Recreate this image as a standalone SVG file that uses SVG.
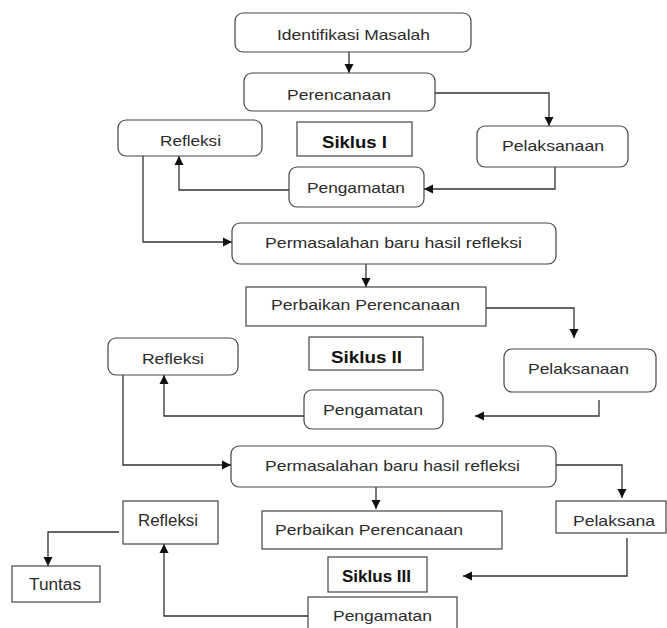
<svg xmlns="http://www.w3.org/2000/svg" width="667" height="628" viewBox="0 0 667 628">
<style>
.bx{fill:#fff;stroke:#444;stroke-width:1.2}
.t{font-family:"Liberation Sans",Arial,sans-serif;font-size:15px;fill:#2b2b2b}
.b{font-family:"Liberation Sans",Arial,sans-serif;font-size:16px;font-weight:bold;fill:#111}
.c{fill:none;stroke:#333;stroke-width:1.3}
</style>
<defs>
<marker id="ah" markerUnits="userSpaceOnUse" markerWidth="10" markerHeight="10" refX="9" refY="5" orient="auto">
<path d="M0,0.5 L9,5 L0,9.5 Z" fill="#111"/>
</marker>
</defs>
<rect width="667" height="628" fill="#fff"/>
<g id="connectors">
<path class="c" d="M349,52 V73" marker-end="url(#ah)"/>
<path class="c" d="M435,93 H549 V126" marker-end="url(#ah)"/>
<path class="c" d="M555,167 V189 H424" marker-end="url(#ah)"/>
<path class="c" d="M289,190 H179 V156" marker-end="url(#ah)"/>
<path class="c" d="M143,156 V242 H232" marker-end="url(#ah)"/>
<path class="c" d="M366,264 V287" marker-end="url(#ah)"/>
<path class="c" d="M486,308 H574 V338" marker-end="url(#ah)"/>
<path class="c" d="M599,400 V416 H475" marker-end="url(#ah)"/>
<path class="c" d="M304,416 H164 V375" marker-end="url(#ah)"/>
<path class="c" d="M123,375 V465 H231" marker-end="url(#ah)"/>
<path class="c" d="M556,465 H622 V498" marker-end="url(#ah)"/>
<path class="c" d="M376,487 V509" marker-end="url(#ah)"/>
<path class="c" d="M627,538 V576 H463" marker-end="url(#ah)"/>
<path class="c" d="M308,616 H164 V544" marker-end="url(#ah)"/>
<path class="c" d="M119,532 H48 V566" marker-end="url(#ah)"/>
</g>
<g id="identifikasi">
<rect class="bx" x="235" y="13" width="236" height="39" rx="8"/>
<text class="t" x="277" y="40" textLength="153" lengthAdjust="spacingAndGlyphs">Identifikasi Masalah</text>
</g>
<g id="perencanaan">
<rect class="bx" x="244" y="73" width="191" height="38" rx="8"/>
<text class="t" x="287" y="100" textLength="104" lengthAdjust="spacingAndGlyphs">Perencanaan</text>
</g>
<g id="refleksi1">
<rect class="bx" x="118" y="120" width="144" height="36" rx="8"/>
<text class="t" x="160" y="146" textLength="61" lengthAdjust="spacingAndGlyphs">Refleksi</text>
</g>
<g id="siklus1">
<rect class="bx" x="297" y="122" width="115" height="34"/>
<text class="b" x="322" y="148" textLength="65" lengthAdjust="spacingAndGlyphs">Siklus I</text>
</g>
<g id="pelaksanaan1">
<rect class="bx" x="477" y="126" width="151" height="41" rx="8"/>
<text class="t" x="502" y="151" textLength="102" lengthAdjust="spacingAndGlyphs">Pelaksanaan</text>
</g>
<g id="pengamatan1">
<rect class="bx" x="289" y="167" width="135" height="40" rx="8"/>
<text class="t" x="307" y="193" textLength="98" lengthAdjust="spacingAndGlyphs">Pengamatan</text>
</g>
<g id="permasalahan1">
<rect class="bx" x="232" y="223" width="324" height="41" rx="8"/>
<text class="t" x="265" y="248" textLength="257" lengthAdjust="spacingAndGlyphs">Permasalahan baru hasil refleksi</text>
</g>
<g id="perbaikan1">
<rect class="bx" x="246" y="287" width="240" height="39"/>
<text class="t" x="271" y="310" textLength="189" lengthAdjust="spacingAndGlyphs">Perbaikan Perencanaan</text>
</g>
<g id="refleksi2">
<rect class="bx" x="108" y="338" width="130" height="37" rx="8"/>
<text class="t" x="142" y="364" textLength="62" lengthAdjust="spacingAndGlyphs">Refleksi</text>
</g>
<g id="siklus2">
<rect class="bx" x="309" y="337" width="114" height="33"/>
<text class="b" x="331" y="363" textLength="71" lengthAdjust="spacingAndGlyphs">Siklus II</text>
</g>
<g id="pelaksanaan2">
<rect class="bx" x="504" y="349" width="152" height="43" rx="8"/>
<text class="t" x="528" y="374" textLength="101" lengthAdjust="spacingAndGlyphs">Pelaksanaan</text>
</g>
<g id="pengamatan2">
<rect class="bx" x="304" y="390" width="139" height="39" rx="8"/>
<text class="t" x="323" y="415" textLength="100" lengthAdjust="spacingAndGlyphs">Pengamatan</text>
</g>
<g id="permasalahan2">
<rect class="bx" x="231" y="446" width="325" height="41" rx="8"/>
<text class="t" x="265" y="471" textLength="255" lengthAdjust="spacingAndGlyphs">Permasalahan baru hasil refleksi</text>
</g>
<g id="refleksi3">
<rect class="bx" x="123" y="501" width="95" height="43"/>
<text class="t" x="138" y="526" style="font-size:16px" textLength="60" lengthAdjust="spacingAndGlyphs">Refleksi</text>
</g>
<g id="perbaikan2">
<rect class="bx" x="262" y="511" width="240" height="38"/>
<text class="t" x="275" y="535" textLength="188" lengthAdjust="spacingAndGlyphs">Perbaikan Perencanaan</text>
</g>
<g id="pelaksana">
<rect class="bx" x="556" y="501" width="110" height="32"/>
<text class="t" x="573" y="526" textLength="82" lengthAdjust="spacingAndGlyphs">Pelaksana</text>
</g>
<g id="tuntas">
<rect class="bx" x="12" y="566" width="88" height="36"/>
<text class="t" x="29" y="590" style="font-size:16px" textLength="52" lengthAdjust="spacingAndGlyphs">Tuntas</text>
</g>
<g id="siklus3">
<rect class="bx" x="328" y="557" width="99" height="35"/>
<text class="b" x="342" y="582" textLength="69" lengthAdjust="spacingAndGlyphs">Siklus III</text>
</g>
<g id="pengamatan3">
<rect class="bx" x="308" y="597" width="149" height="45"/>
<text class="t" x="333" y="621" textLength="99" lengthAdjust="spacingAndGlyphs">Pengamatan</text>
</g>
</svg>
